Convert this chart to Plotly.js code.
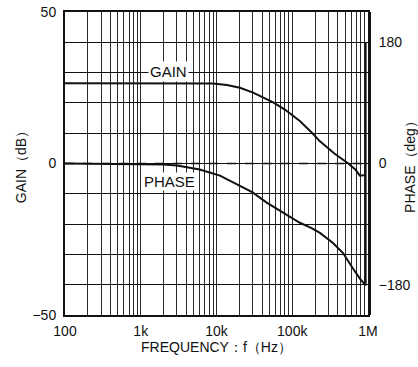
<!DOCTYPE html>
<html>
<head>
<meta charset="utf-8">
<script src="https://cdn.plot.ly/plotly-3.0.1.min.js"></script>
<style>html,body{margin:0;padding:0;background:#fff;}#chart{width:418px;height:367px;}</style>
</head>
<body>
<div id="chart"></div>
<script>
// Gain curve (dB) vs frequency (Hz)
const gainFreq = [100, 1000, 6000, 9000, 13700, 20400, 30400, 41000, 56000, 80000, 126000, 186000, 230000, 360000, 550000, 680000, 783000, 930000];
const gainDb   = [26.5, 26.5, 26.5, 26.4, 25.9, 25.0, 23.4, 21.9, 20.2, 17.8, 14.0, 9.9, 7.4, 3.3, 0, -2.0, -4.0, -3.8];
// Phase curve (deg) vs frequency (Hz)
const phaseFreq = [100, 1000, 2000, 3000, 6000, 11100, 20400, 30000, 46000, 75000, 100000, 126000, 180000, 232000, 345000, 468000, 633000, 783000, 930000, 930000];
const phaseDeg  = [0, -0.5, -1.5, -3, -9, -18, -33, -43, -58, -73, -81, -88, -96, -103, -118, -133, -156, -171, -181, 180];
// Axis ticks
const xDecades = [100, 1000, 10000, 100000, 1000000];
const xDecadeLabels = ["100", "1k", "10k", "100k", "1M"];
const gainTicks = [-50, 0, 50];
const phaseTicks = [-180, 0, 180];

// grid tick positions (1..9 per decade)
const xTickVals = [], xTickText = [];
for (let d = 0; d < xDecades.length; d++) {
  const base = xDecades[d];
  xTickVals.push(base); xTickText.push(xDecadeLabels[d]);
  if (d < xDecades.length - 1) {
    for (let k = 2; k <= 9; k++) { xTickVals.push(base * k); xTickText.push(""); }
  }
}
const yGridVals = [];
for (let v = -50; v <= 50; v += 10) yGridVals.push(v);
const yGridText = yGridVals.map(v => gainTicks.includes(v) ? (v < 0 ? "\u2212" + Math.abs(v) : String(v)) : "");

const fam = "Liberation Sans, Arial, sans-serif";
const font = {family: fam, size: 14, color: "#111"};

const traces = [
  {x: gainFreq, y: gainDb, type: "scatter", mode: "lines", line: {color: "#111", width: 2}, xaxis: "x", yaxis: "y", hoverinfo: "skip"},
  {x: phaseFreq, y: phaseDeg, type: "scatter", mode: "lines", line: {color: "#111", width: 2}, xaxis: "x", yaxis: "y2", hoverinfo: "skip"}
];

const layout = {
  width: 418, height: 367,
  margin: {l: 65, r: 50, t: 12, b: 52},
  paper_bgcolor: "#fff", plot_bgcolor: "#fff",
  showlegend: false,
  font: font,
  xaxis: {
    type: "log", range: [2, 6],
    tickmode: "array", tickvals: xTickVals, ticktext: xTickText,
    showgrid: true, gridcolor: "#2a2a2a", gridwidth: 1,
    ticks: "", ticklabelstandoff: 2,
    tickfont: font,
    showline: true, linecolor: "#111", linewidth: 2, mirror: true,
    zeroline: false,
    title: {text: "FREQUENCY\uFF1Af\uFF08Hz\uFF09", font: font, standoff: 3}
  },
  yaxis: {
    range: [-50, 50],
    tickmode: "array", tickvals: yGridVals, ticktext: yGridText,
    showgrid: true, gridcolor: "#111", gridwidth: 1,
    ticks: "", ticklabelstandoff: 4,
    tickfont: font,
    showline: true, linecolor: "#111", linewidth: 2, mirror: true,
    zeroline: false,
    title: {text: "GAIN\uFF08dB\uFF09", font: font, standoff: 3}
  },
  yaxis2: {
    overlaying: "y", side: "right",
    range: [-225, 225],
    tickmode: "array", tickvals: phaseTicks,
    ticktext: phaseTicks.map(v => v < 0 ? "\u2212" + Math.abs(v) : String(v)),
    tickfont: font,
    showgrid: false, zeroline: false, ticks: "", ticklabelstandoff: 5,
    showline: true, linecolor: "#111", linewidth: 3,
    title: {text: "PHASE\uFF08deg\uFF09", font: font, standoff: 10}
  },
  shapes: [
    {type: "line", xref: "paper", yref: "y", x0: 0, x1: 1, y0: 0, y1: 0, line: {color: "#111", width: 1.5, dash: "dash"}}
  ],
  annotations: [
    {x: Math.log10(2300), y: 30.3, xref: "x", yref: "y", text: "GAIN", showarrow: false, bgcolor: "#fff", font: {family: fam, size: 15, color: "#111"}, borderpad: 1},
    {x: Math.log10(2400), y: -5.9, xref: "x", yref: "y", text: "PHASE", showarrow: false, bgcolor: "#fff", font: {family: fam, size: 15, color: "#111"}, borderpad: 0}
  ]
};

Plotly.newPlot("chart", traces, layout, {displayModeBar: false, staticPlot: true});
</script>
</body>
</html>
